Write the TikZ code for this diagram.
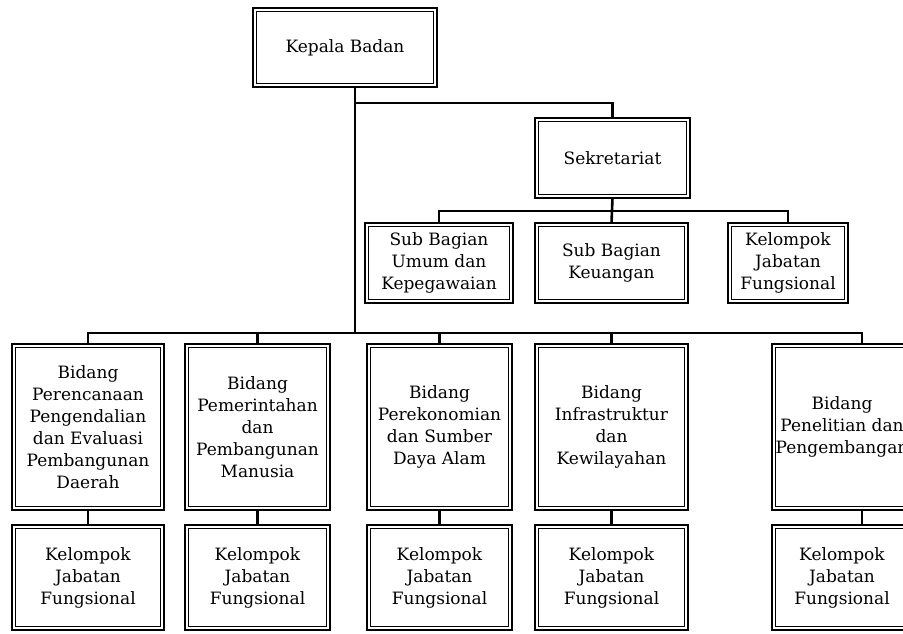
\documentclass[tikz,border=0pt]{standalone}
\usepackage{fontspec}
\setmainfont{DejaVu Serif}
\usetikzlibrary{positioning,calc}

\begin{document}
\begin{tikzpicture}[x=1pt,y=-1pt,node distance=15pt,
	box/.style={draw,line width=2.6pt,fill=white,align=center,inner sep=0pt,outer sep=0pt,
		font=\fontsize{17}{22}\selectfont,
		path picture={\draw[line width=1pt] ([shift={(3.6pt,-3.6pt)}]path picture bounding box.north west) rectangle ([shift={(-3.6pt,3.6pt)}]path picture bounding box.south east);}},
	sub/.style={box,minimum height=80pt},
	bid/.style={box,minimum height=166pt},
	kel/.style={box,minimum height=105pt},
	link/.style={line width=2.6pt}]
			\useasboundingbox (0,0) rectangle (903,634);
			\clip (0,0) rectangle (903,634);
			\node[box,minimum width=184pt,minimum height=79pt] (kb) at (345,47.5) {Kepala Badan};
			\node[sub,minimum width=155pt] (sek) at (612.5,158) {Sekretariat};
			\node[sub,minimum width=148pt] (sb_1) at (439,263) {Sub Bagian\\Umum dan\\Kepegawaian};
			\node[sub,minimum width=153pt] (sb_2) at (611.5,263) {Sub Bagian\\Keuangan};
			\node[sub,minimum width=120pt] (sb_3) at (788,263) {Kelompok\\Jabatan\\Fungsional};
			\node[bid,minimum width=152pt] (b_1) at (88,427) {Bidang\\Perencanaan\\Pengendalian\\dan Evaluasi\\Pembangunan\\Daerah};
			\node[bid,minimum width=145pt] (b_2) at (257.5,427) {Bidang\\Pemerintahan\\dan\\Pembangunan\\Manusia};
			\node[bid,minimum width=145pt] (b_3) at (439.5,427) {Bidang\\Perekonomian\\dan Sumber\\Daya Alam};
			\node[bid,minimum width=153pt] (b_4) at (611.5,427) {Bidang\\Infrastruktur\\dan\\Kewilayahan};
			\node[bid,minimum width=140pt] (b_5) at (842,427) {Bidang\\Penelitian dan\\Pengembangan};
			\node[kel,minimum width=152pt] [below=of b_1] (k_1) {Kelompok\\Jabatan\\Fungsional};
			\node[kel,minimum width=145pt] [below=of b_2] (k_2) {Kelompok\\Jabatan\\Fungsional};
			\node[kel,minimum width=145pt] [below=of b_3] (k_3) {Kelompok\\Jabatan\\Fungsional};
			\node[kel,minimum width=153pt] [below=of b_4] (k_4) {Kelompok\\Jabatan\\Fungsional};
			\node[kel,minimum width=140pt] [below=of b_5] (k_5) {Kelompok\\Jabatan\\Fungsional};
			\coordinate (spine) at ([xshift=10pt]kb.south);
			\coordinate (bus) at ($(b_1.north)+(0,-11)$);
			\draw[line width=1.2pt] (spine) -- (spine |- bus);
			\draw[link] (sek.north) |- ($(spine)+(0,16)$);
			\draw[link] (sek.south) -- (sb_2.north);
			\draw[link] (sb_1.north) -- ++(0,-12) -| (sb_3.north);
			\draw[link] (b_1.north) -- ++(0,-11) -| ([xshift=20pt]b_5.north);
			\foreach \i in {2,3,4}
				\draw[link] (b_\i.north) -- ++(0,-11);
			\foreach \i in {1,...,4}
				\draw[link] (b_\i.south) -- (k_\i.north);
			\draw[link] ([xshift=20pt]b_5.south) -- ([xshift=20pt]k_5.north);
		\end{tikzpicture}
\end{document}
